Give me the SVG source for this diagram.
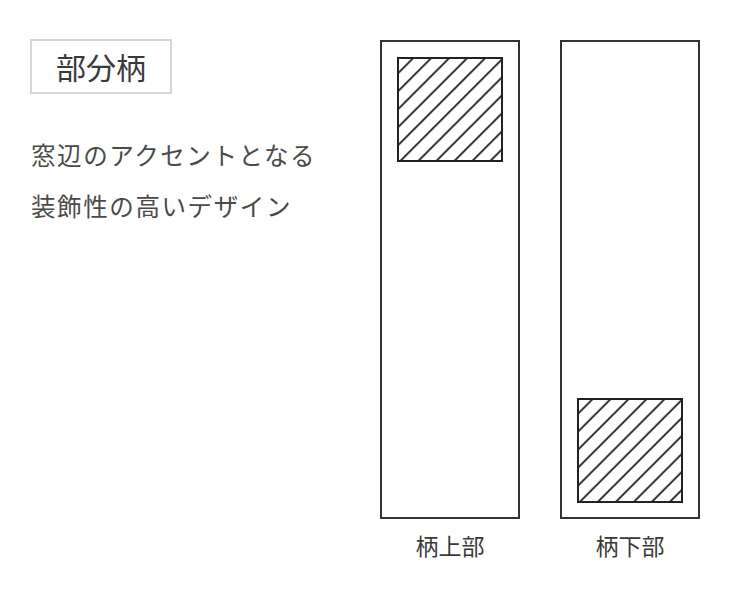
<svg xmlns="http://www.w3.org/2000/svg" width="750" height="600" viewBox="0 0 750 600">
<style>
.t{font-family:"Noto Sans CJK JP","Noto Sans",sans-serif;fill:#3a3a3a}
.d{fill:#4a4a4a}
.panel{fill:#fff;stroke:#333;stroke-width:2}
.hatch{stroke:#222;stroke-width:2}
</style>
<defs>
<pattern id="h1" patternUnits="userSpaceOnUse" x="3.3" y="0" width="18" height="18">
<path d="M0,18 L18,0 M-2,2 L2,-2 M16,20 L20,16" stroke="#222" stroke-width="1.9"/>
</pattern>
<pattern id="h2" patternUnits="userSpaceOnUse" x="1.7" y="0" width="18" height="18">
<path d="M0,18 L18,0 M-2,2 L2,-2 M16,20 L20,16" stroke="#222" stroke-width="1.9"/>
</pattern>
</defs>
<rect width="750" height="600" fill="#fff"/>
<g id="title">
<rect x="31" y="40" width="140" height="53" fill="#fff" stroke="#d6d6d6" stroke-width="2"/>
<text class="t" x="101" y="78.5" font-size="30" text-anchor="middle">部分柄</text>
</g>
<g id="description">
<text class="t d" x="31" y="165" font-size="24.5" letter-spacing="1.6">窓辺のアクセントとなる</text>
<text class="t d" x="31" y="216" font-size="24.5" letter-spacing="1.6">装飾性の高いデザイン</text>
</g>
<g id="panel-top">
<rect class="panel" x="381" y="41" width="138" height="477"/>
<rect x="398" y="58" width="104" height="103" fill="url(#h1)" class="hatch"/>
<text class="t" x="450" y="555" font-size="23" text-anchor="middle">柄上部</text>
</g>
<g id="panel-bottom">
<rect class="panel" x="561" y="41" width="138" height="477"/>
<rect x="578" y="399" width="104" height="103" fill="url(#h2)" class="hatch"/>
<text class="t" x="630" y="555" font-size="23" text-anchor="middle">柄下部</text>
</g>
<g id="connectors"/>
</svg>
